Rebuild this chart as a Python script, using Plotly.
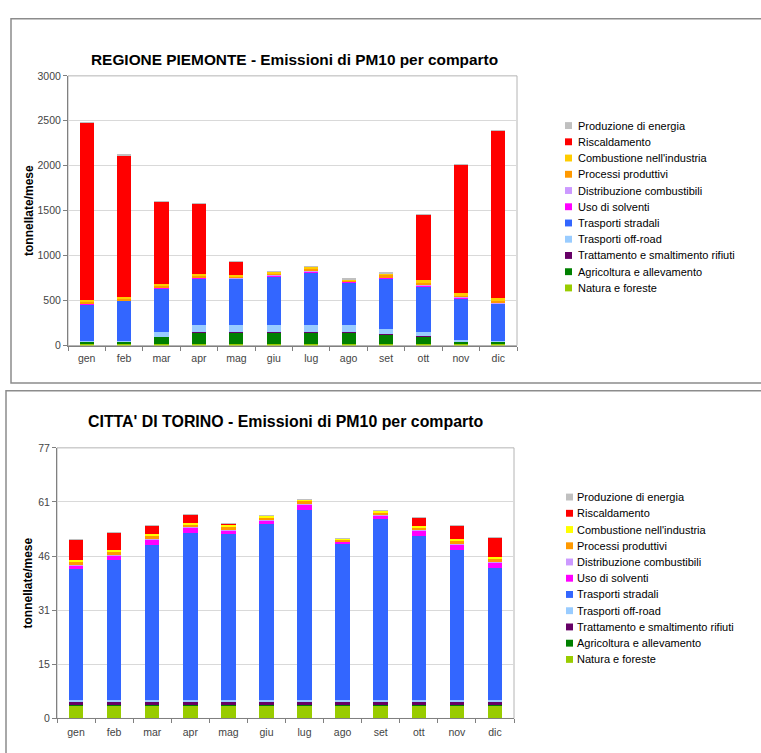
import plotly.graph_objects as go

W, H = 761, 753

months = ["gen", "feb", "mar", "apr", "mag", "giu", "lug", "ago", "set", "ott", "nov", "dic"]

# Sector names, bottom of the stack first
sectors = [
    "Natura e foreste",
    "Agricoltura e allevamento",
    "Trattamento e smaltimento rifiuti",
    "Trasporti off-road",
    "Trasporti stradali",
    "Uso di solventi",
    "Distribuzione combustibili",
    "Processi produttivi",
    "Combustione nell'industria",
    "Riscaldamento",
    "Produzione di energia",
]

# --- Regione Piemonte, t/mese ---
piem_natura = [18, 18, 18, 18, 18, 18, 18, 18, 18, 18, 18, 18]
piem_agricoltura = [24, 24, 80, 133, 133, 133, 133, 133, 111, 82, 28, 24]
piem_rifiuti = [2, 2, 2, 2, 2, 2, 2, 2, 2, 2, 2, 2]
piem_offroad = [6, 8, 50, 72, 72, 72, 72, 72, 58, 50, 8, 6]
piem_stradali = [410, 445, 485, 521, 519, 545, 593, 478, 555, 510, 468, 414]
piem_solventi = [8, 8, 8, 8, 8, 10, 10, 7, 10, 10, 9, 9]
piem_distribuzione = [2, 2, 2, 2, 2, 2, 2, 2, 2, 2, 2, 2]
piem_processi = [20, 21, 20, 20, 17, 25, 28, 16, 30, 31, 28, 30]
piem_combustione = [16, 17, 15, 14, 12, 18, 20, 12, 21, 22, 20, 21]
piem_riscaldamento = [1974, 1575, 920, 788, 154, 0, 0, 0, 0, 734, 1435, 1867]
piem_energia = [2, 2, 2, 2, 2, 2, 2, 2, 2, 2, 2, 2]

# --- Citta' di Torino, t/mese ---
tor_natura = [3.8, 3.8, 3.8, 3.8, 3.8, 3.8, 3.8, 3.8, 3.8, 3.8, 3.8, 3.8]
tor_agricoltura = [0.05, 0.05, 0.05, 0.05, 0.05, 0.05, 0.05, 0.05, 0.05, 0.05, 0.05, 0.05]
tor_rifiuti = [1.0, 1.0, 1.0, 1.0, 1.0, 1.0, 1.0, 1.0, 1.0, 1.0, 1.0, 1.0]
tor_offroad = [0.3, 0.3, 0.3, 0.3, 0.3, 0.3, 0.3, 0.3, 0.3, 0.3, 0.3, 0.3]
tor_stradali = [37.3, 40.0, 44.3, 47.7, 47.3, 50.2, 54.1, 44.7, 51.6, 46.8, 42.7, 37.8]
tor_solventi = [1.0, 1.4, 1.4, 1.4, 1.2, 1.1, 1.6, 0.5, 1.1, 1.5, 1.6, 1.4]
tor_distribuzione = [0.1, 0.1, 0.1, 0.1, 0.1, 0.1, 0.1, 0.1, 0.1, 0.1, 0.1, 0.1]
tor_processi = [1.1, 1.0, 1.1, 0.9, 1.0, 0.8, 1.0, 0.4, 0.8, 0.8, 1.0, 1.1]
tor_combustione = [0.5, 0.4, 0.4, 0.4, 0.4, 0.4, 0.4, 0.3, 0.4, 0.4, 0.4, 0.5]
tor_riscaldamento = [5.7, 4.8, 2.5, 2.3, 0.3, 0, 0, 0, 0, 2.5, 4.0, 5.4]
tor_energia = [0.02, 0.02, 0.02, 0.02, 0.02, 0.02, 0.02, 0.02, 0.02, 0.02, 0.02, 0.02]

piem_series = [piem_natura, piem_agricoltura, piem_rifiuti, piem_offroad, piem_stradali,
               piem_solventi, piem_distribuzione, piem_processi, piem_combustione,
               piem_riscaldamento, piem_energia]
tor_series = [tor_natura, tor_agricoltura, tor_rifiuti, tor_offroad, tor_stradali,
              tor_solventi, tor_distribuzione, tor_processi, tor_combustione,
              tor_riscaldamento, tor_energia]

piem_colors = ["#99CC00", "#008000", "#660066", "#99CCFF", "#3366FF", "#FF00FF",
               "#CC99FF", "#FF9900", "#FFCC00", "#FF0000", "#C0C0C0"]
tor_colors = ["#99CC00", "#008000", "#660066", "#99CCFF", "#3366FF", "#FF00FF",
              "#CC99FF", "#FF9900", "#FFFF00", "#FF0000", "#C0C0C0"]

tor_ticks = [0, 15.4, 30.8, 46.2, 61.6, 77]
tor_ticktext = ["0", "15", "31", "46", "61", "77"]

FONT = "Liberation Sans, Arial, sans-serif"


def px_x(x):
    return x / W


def px_y(y):
    return 1 - y / H


fig = go.Figure()

for name, vals, col in zip(sectors, piem_series, piem_colors):
    fig.add_trace(go.Bar(x=months, y=vals, name=name, marker=dict(color=col, line=dict(width=0)),
                         xaxis="x", yaxis="y", showlegend=False))
for name, vals, col in zip(sectors, tor_series, tor_colors):
    fig.add_trace(go.Bar(x=months, y=vals, name=name, marker=dict(color=col, line=dict(width=0)),
                         xaxis="x2", yaxis="y2", showlegend=False))

# plot areas in pixels: (left, right, top, bottom)
top_area = (68, 517, 71, 345)
bot_area = (57, 514, 449, 724)

axis_common = dict(
    showline=True, linecolor="#808080", linewidth=1,
    ticks="outside", tickcolor="#808080", ticklen=4,
    tickfont=dict(family=FONT, size=10.5, color="#444444"),
    zeroline=False,
)

fig.update_layout(
    width=W, height=H, autosize=False,
    margin=dict(l=0, r=0, t=0, b=0),
    paper_bgcolor="white", plot_bgcolor="white",
    barmode="stack", bargap=0.62,
    font=dict(family=FONT, color="black"),
    showlegend=False,
    xaxis=dict(domain=[px_x(top_area[0]), px_x(top_area[1])], anchor="y",
               tickson="boundaries", showgrid=False, ticklabelstandoff=3, **axis_common),
    yaxis=dict(domain=[px_y(top_area[3]), px_y(top_area[2])], anchor="x",
               range=[0, 3000], tickvals=[0, 500, 1000, 1500, 2000, 2500, 3000],
               showgrid=True, gridcolor="#D9D9D9", gridwidth=1,
               title=dict(text="tonnellate/mese", font=dict(family=FONT, size=12, weight="bold"),
                          standoff=1),
               **axis_common),
    xaxis2=dict(domain=[px_x(bot_area[0]), px_x(bot_area[1])], anchor="y2",
                tickson="boundaries", showgrid=False, ticklabelstandoff=4, **axis_common),
    yaxis2=dict(domain=[px_y(bot_area[3]), px_y(bot_area[2])], anchor="x2",
                range=[0, 77], tickvals=tor_ticks, ticktext=tor_ticktext,
                showgrid=True, gridcolor="#D9D9D9", gridwidth=1,
                title=dict(text="tonnellate/mese", font=dict(family=FONT, size=12, weight="bold"),
                           standoff=3),
                **axis_common),
)

# Chart titles
fig.add_annotation(x=px_x(294), y=px_y(44), xref="paper", yref="paper", showarrow=False,
                   text="REGIONE PIEMONTE - Emissioni di PM10 per comparto",
                   font=dict(family=FONT, size=15.4, weight="bold", color="black"))
fig.add_annotation(x=px_x(286), y=px_y(422), xref="paper", yref="paper", showarrow=False,
                   text="CITTA' DI TORINO - Emissioni di PM10 per comparto",
                   font=dict(family=FONT, size=15.9, weight="bold", color="black"))


# Legend keys: topmost stack segment listed first
def add_key(colors, sq_x, txt_x, first_y, step=16.5):
    for i, (name, col) in enumerate(zip(reversed(sectors), reversed(colors))):
        yc = first_y + i * step
        fig.add_shape(type="rect", xref="paper", yref="paper",
                      x0=px_x(sq_x), x1=px_x(sq_x + 7), y0=px_y(yc + 3.5), y1=px_y(yc - 3.5),
                      line=dict(width=0), fillcolor=col)
        fig.add_annotation(x=px_x(txt_x), y=px_y(yc), xref="paper", yref="paper",
                           xanchor="left", yanchor="middle", showarrow=False, text=name,
                           font=dict(family=FONT, size=11, color="black"))


add_key(piem_colors, 565, 576, 121.5)
add_key(tor_colors, 566, 575, 499)

# Chart frames and plot-area borders
fig.add_shape(type="rect", xref="paper", yref="paper",
              x0=px_x(11), x1=px_x(775), y0=px_y(383), y1=px_y(13),
              line=dict(color="#8C8C8C", width=1.5), fillcolor="rgba(0,0,0,0)", layer="below")
fig.add_shape(type="rect", xref="paper", yref="paper",
              x0=px_x(6), x1=px_x(775), y0=px_y(770), y1=px_y(391),
              line=dict(color="#8C8C8C", width=1.5), fillcolor="rgba(0,0,0,0)", layer="below")
for l, r, t, b in (top_area, bot_area):
    fig.add_shape(type="rect", xref="paper", yref="paper",
                  x0=px_x(l), x1=px_x(r), y0=px_y(b), y1=px_y(t),
                  line=dict(color="#B4B4B4", width=1), fillcolor="rgba(0,0,0,0)", layer="below")

fig.write_html("out.html")
